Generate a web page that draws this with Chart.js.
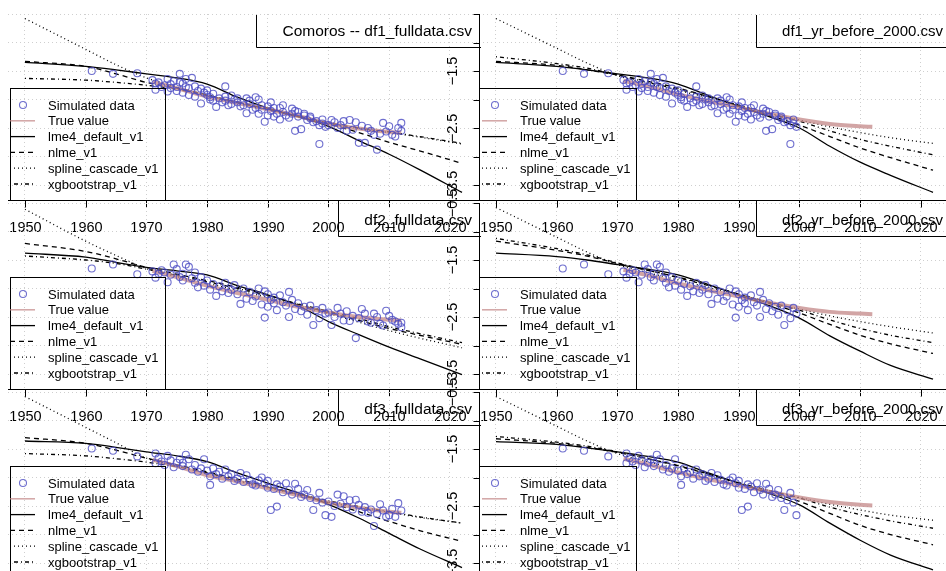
<!DOCTYPE html>
<html>
<head>
<meta charset="utf-8">
<script src="https://cdn.jsdelivr.net/npm/chart.js@4.4.1/dist/chart.umd.min.js"></script>
<style>
  html, body { margin: 0; padding: 0; background: #fff; width: 946px; height: 571px; overflow: hidden; }
  canvas { position: absolute; left: 0; top: 0; }
</style>
</head>
<body>
<script>
// ---- axis ticks ----
const xTicks = [1950, 1960, 1970, 1980, 1990, 2000, 2010, 2020];
const xTickLabels = ['1950', '1960', '1970', '1980', '1990', '2000', '2010', '2020'];
const yTicks = [-3.5, -3, -2.5, -2, -1.5, -1, -0.5];
const yLabelTicks = [-3.5, -2.5, -1.5, -0.5];
const yTickLabels = ['\u22123.5', '\u22122.5', '\u22121.5', '\u22120.5'];

// ---- simulated data [year, value] ----
const df1Points = [
  [1961,-1.50],[1964.5,-1.55],[1968.5,-1.54],
  [1971.5,-1.72],[1971.5,-1.83],[1971,-1.66],[1972,-1.70],[1972.5,-1.78],
  [1973.5,-1.64],[1973.5,-1.86],[1973,-1.75],[1974.5,-1.68],[1974,-1.80],[1974,-1.73],
  [1975.5,-1.55],[1975,-1.78],[1975,-1.85],[1975.5,-1.70],
  [1976.5,-1.64],[1976.5,-1.78],[1976,-1.88],[1976,-1.72],
  [1977.5,-1.62],[1977,-1.80],[1977,-1.92],
  [1978,-1.77],[1978.5,-1.85],[1978,-1.95],
  [1979,-2.07],[1979.5,-1.88],[1979,-1.81],
  [1980.5,-1.96],[1980,-1.84],[1980,-1.92],[1980.5,-2.00],
  [1981.5,-2.13],[1981,-1.90],[1981,-2.02],
  [1983,-1.77],[1982,-1.98],[1982.5,-2.05],
  [1983,-1.95],[1983.5,-2.10],[1983,-2.02],
  [1984.5,-2.00],[1984,-2.08],[1984,-1.93],
  [1985,-2.05],[1985.5,-2.12],[1985,-1.98],
  [1986.5,-1.98],[1986.5,-2.24],[1986,-2.10],
  [1988,-1.96],[1987,-2.08],[1987.5,-2.18],[1987,-2.02],
  [1988.5,-2.00],[1988,-2.15],[1988.5,-2.25],
  [1989.5,-2.39],[1989,-2.10],[1989,-2.18],
  [1990,-2.12],[1990.5,-2.20],[1990,-2.28],[1990.5,-2.05],
  [1991,-2.15],[1991.5,-2.25],[1991,-2.30],
  [1992,-2.15],[1992.5,-2.22],[1992,-2.35],[1992.5,-2.10],
  [1994,-2.16],[1993,-2.28],[1993.5,-2.32],
  [1994.5,-2.55],[1994,-2.25],[1994.5,-2.20],
  [1995.5,-2.52],[1995,-2.30],[1995,-2.22],
  [1996,-2.28],[1996.5,-2.36],[1996,-2.25],
  [1997,-2.30],[1997.5,-2.40],[1997,-2.33],
  [1998.5,-2.78],[1998,-2.38],[1998.5,-2.45],
  [1999,-2.35],[1999.5,-2.48],[1999,-2.42],
  [2000.5,-2.36],[2000,-2.45],[2001,-2.40],[2001.5,-2.50],
  [2002,-2.45],[2002.5,-2.38],[2003.5,-2.36],[2003,-2.55],
  [2004,-2.53],[2004.5,-2.40],[2005,-2.76],[2005.5,-2.46],
  [2006,-2.76],[2006.5,-2.50],[2007,-2.55],[2007.5,-2.62],
  [2008,-2.88],[2008.5,-2.60],[2009,-2.41],[2009.5,-2.56],
  [2010,-2.47],[2010.5,-2.62],[2011,-2.65],[2011.5,-2.50],
  [2012,-2.41],[2012,-2.55]
];
const df2Points = [
  [1961,-1.65],[1964.5,-1.58],[1968.5,-1.75],
  [1971.5,-1.81],[1971,-1.70],[1972,-1.74],[1972.5,-1.68],[1973.5,-1.89],[1973,-1.72],
  [1974.5,-1.58],[1974,-1.76],[1975,-1.66],[1975.5,-1.80],[1976.5,-1.58],[1976,-1.74],[1976,-1.86],
  [1977,-1.62],[1977.5,-1.82],[1978,-1.72],[1978.5,-1.98],[1978,-1.90],
  [1979,-1.80],[1979.5,-1.95],[1980,-1.86],[1980.5,-2.02],[1981.5,-2.13],[1981,-1.92],
  [1982,-1.96],[1982.5,-2.05],[1983,-1.90],[1983.5,-2.08],[1984,-2.02],[1984.5,-1.94],
  [1985.5,-2.27],[1985,-2.10],[1986,-2.00],[1986.5,-2.18],[1987,-2.06],[1987.5,-2.22],
  [1988.5,-2.00],[1988,-2.14],[1989,-2.28],[1989.5,-2.51],[1989.5,-2.05],
  [1990,-2.10],[1990.5,-2.20],[1990,-2.32],[1991,-2.16],[1991.5,-2.38],[1991,-2.26],
  [1992,-2.12],[1992.5,-2.24],[1993.5,-2.06],[1993,-2.30],[1993.5,-2.50],[1994,-2.20],[1994.5,-2.36],
  [1995,-2.26],[1995.5,-2.40],[1996,-2.32],[1996.5,-2.46],[1997.5,-2.64],[1997,-2.30],[1998,-2.38],[1998.5,-2.52],
  [1999,-2.34],[1999.5,-2.44],[2000.5,-2.64],[2000,-2.42],[2001.5,-2.34],[2001,-2.50],
  [2002,-2.44],[2002.5,-2.56],[2003.5,-2.57],[2003,-2.40],[2004.5,-2.87],[2004,-2.48],
  [2005.5,-2.36],[2005,-2.52],[2006,-2.44],[2006.5,-2.58],[2007.5,-2.44],[2007,-2.60],
  [2008,-2.50],[2008.5,-2.62],[2009.5,-2.39],[2009,-2.65],[2010.5,-2.55],[2010,-2.48],
  [2011.5,-2.62],[2011,-2.58],[2012,-2.68],[2012,-2.60]
];
const df3Points = [
  [1961,-1.49],[1964.5,-1.53],[1968.5,-1.63],
  [1971.5,-1.58],[1971.5,-1.75],[1972,-1.66],[1972.5,-1.72],[1973.5,-1.62],[1973,-1.78],
  [1974,-1.70],[1974.5,-1.82],[1975,-1.74],[1975.5,-1.68],[1976.5,-1.60],[1976,-1.80],[1976,-1.74],
  [1977,-1.68],[1977.5,-1.86],[1978,-1.78],[1978.5,-1.90],[1979.5,-1.68],[1979,-1.84],
  [1980.5,-2.13],[1980.5,-1.98],[1980,-1.88],[1981,-1.84],[1981.5,-1.94],[1982,-1.90],[1982.5,-2.02],
  [1983,-1.86],[1983.5,-1.98],[1984,-1.94],[1984.5,-2.06],[1985.5,-1.92],[1985,-2.02],[1986,-2.08],
  [1986.5,-1.96],[1987,-2.04],[1987.5,-2.12],[1988.5,-2.05],[1988,-2.14],[1989,-2.00],[1989.5,-2.10],
  [1990,-2.18],[1990.5,-2.57],[1990,-2.06],[1991.5,-2.51],[1991,-2.20],[1991.5,-2.12],
  [1992,-2.16],[1992.5,-2.26],[1993,-2.10],[1993.5,-2.22],[1994.5,-2.11],[1994,-2.30],
  [1995,-2.20],[1995.5,-2.34],[1996.5,-2.22],[1996,-2.30],[1997.5,-2.57],[1997,-2.36],
  [1998.5,-2.27],[1998,-2.40],[1999.5,-2.66],[1999,-2.44],
  [2000.5,-2.69],[2000,-2.42],[2001.5,-2.30],[2001,-2.50],[2002.5,-2.33],[2002,-2.46],
  [2003,-2.52],[2003.5,-2.40],[2004.5,-2.39],[2004,-2.56],[2005,-2.48],[2005.5,-2.60],
  [2006,-2.52],[2006.5,-2.62],[2007.5,-2.85],[2007,-2.56],[2008.5,-2.47],[2008,-2.64],
  [2009.5,-2.69],[2009,-2.58],[2010.5,-2.55],[2010,-2.66],[2011.5,-2.45],[2011,-2.69],[2012,-2.58]
];

// ---- true value ----
const trueYears = [1971, 1975, 1980, 1985, 1990, 1995, 2000, 2005, 2010, 2012];
const trueDf1Full = [-1.69,-1.80,-1.95,-2.06,-2.17,-2.29,-2.42,-2.51,-2.57,-2.58];
const trueDf1Pre  = [-1.67,-1.77,-1.91,-2.03,-2.14,-2.25,-2.35,-2.43,-2.47,-2.48];
const trueDf2Full = [-1.69,-1.80,-1.95,-2.08,-2.20,-2.32,-2.42,-2.50,-2.55,-2.56];
const trueDf2Pre  = [-1.67,-1.77,-1.91,-2.03,-2.14,-2.25,-2.34,-2.41,-2.44,-2.45];
const trueDf3Full = [-1.69,-1.80,-1.96,-2.07,-2.19,-2.31,-2.44,-2.53,-2.60,-2.62];
const trueDf3Pre  = [-1.67,-1.77,-1.91,-2.03,-2.14,-2.25,-2.35,-2.43,-2.48,-2.49];

// ---- model fits ----
const modelYears = [1950, 1960, 1965, 1970, 1975, 1980, 1985, 1990, 1995, 2000, 2005, 2010, 2015, 2022];
const lme4Df1Full   = [-1.35,-1.42,-1.48,-1.55,-1.62,-1.73,-1.96,-2.15,-2.30,-2.47,-2.72,-2.96,-3.23,-3.63];
const nlmeDf1Full   = [-1.33,-1.42,-1.55,-1.70,-1.80,-1.92,-2.05,-2.17,-2.30,-2.43,-2.58,-2.75,-2.90,-3.12];
const splineDf1Full = [-0.58,-1.12,-1.39,-1.62,-1.78,-1.93,-2.06,-2.18,-2.30,-2.42,-2.51,-2.58,-2.66,-2.78];
const xgbDf1Full    = [-1.63,-1.66,-1.70,-1.75,-1.82,-1.93,-2.05,-2.17,-2.29,-2.41,-2.50,-2.57,-2.65,-2.77];

const lme4Df1Pre   = [-1.35,-1.42,-1.48,-1.55,-1.62,-1.73,-1.93,-2.12,-2.30,-2.50,-2.82,-3.10,-3.33,-3.63];
const nlmeDf1Pre   = [-1.33,-1.40,-1.48,-1.57,-1.68,-1.80,-1.95,-2.12,-2.28,-2.45,-2.65,-2.85,-3.02,-3.24];
const splineDf1Pre = [-0.58,-1.10,-1.36,-1.58,-1.72,-1.84,-1.97,-2.10,-2.24,-2.36,-2.48,-2.58,-2.67,-2.77];
const xgbDf1Pre    = [-1.25,-1.37,-1.45,-1.57,-1.70,-1.82,-1.95,-2.10,-2.25,-2.38,-2.55,-2.70,-2.82,-2.97];

const lme4Df2Full   = [-1.38,-1.45,-1.54,-1.63,-1.69,-1.76,-1.95,-2.11,-2.30,-2.58,-2.81,-3.03,-3.23,-3.51];
const nlmeDf2Full   = [-1.21,-1.35,-1.48,-1.63,-1.75,-1.86,-1.98,-2.12,-2.28,-2.42,-2.56,-2.70,-2.82,-2.98];
const splineDf2Full = [-0.61,-1.17,-1.42,-1.65,-1.79,-1.91,-2.03,-2.16,-2.30,-2.44,-2.59,-2.74,-2.87,-3.04];
const xgbDf2Full    = [-1.43,-1.50,-1.56,-1.66,-1.77,-1.88,-2.00,-2.13,-2.27,-2.40,-2.53,-2.67,-2.79,-2.95];

const lme4Df2Pre   = [-1.38,-1.44,-1.50,-1.58,-1.66,-1.76,-1.93,-2.12,-2.30,-2.52,-2.83,-3.10,-3.35,-3.59];
const nlmeDf2Pre   = [-1.17,-1.33,-1.43,-1.56,-1.68,-1.80,-1.94,-2.10,-2.26,-2.43,-2.63,-2.82,-2.97,-3.14];
const splineDf2Pre = [-0.58,-1.10,-1.36,-1.58,-1.72,-1.85,-1.98,-2.11,-2.24,-2.36,-2.48,-2.58,-2.67,-2.78];
const xgbDf2Pre    = [-1.12,-1.30,-1.41,-1.55,-1.68,-1.81,-1.95,-2.10,-2.24,-2.38,-2.55,-2.70,-2.82,-2.95];

const lme4Df3Full   = [-1.36,-1.40,-1.47,-1.55,-1.62,-1.72,-1.92,-2.10,-2.27,-2.47,-2.71,-2.98,-3.25,-3.58];
const nlmeDf3Full   = [-1.30,-1.40,-1.52,-1.66,-1.78,-1.90,-2.03,-2.16,-2.30,-2.44,-2.60,-2.77,-2.93,-3.12];
const splineDf3Full = [-0.58,-1.12,-1.39,-1.66,-1.80,-1.93,-2.06,-2.18,-2.30,-2.43,-2.53,-2.61,-2.70,-2.80];
const xgbDf3Full    = [-1.58,-1.62,-1.67,-1.73,-1.81,-1.92,-2.05,-2.17,-2.29,-2.41,-2.51,-2.60,-2.69,-2.80];

const lme4Df3Pre   = [-1.37,-1.42,-1.48,-1.55,-1.63,-1.73,-1.92,-2.10,-2.28,-2.48,-2.80,-3.10,-3.36,-3.62];
const nlmeDf3Pre   = [-1.32,-1.40,-1.47,-1.56,-1.67,-1.79,-1.94,-2.10,-2.26,-2.42,-2.63,-2.84,-3.00,-3.18];
const splineDf3Pre = [-0.58,-1.10,-1.36,-1.58,-1.72,-1.85,-1.97,-2.10,-2.23,-2.35,-2.47,-2.57,-2.66,-2.75];
const xgbDf3Pre    = [-1.28,-1.38,-1.45,-1.55,-1.67,-1.80,-1.94,-2.09,-2.23,-2.36,-2.52,-2.65,-2.76,-2.89];

// ---- layout / style ----
const FONT = '"Liberation Sans", Arial, Helvetica, sans-serif';
const PAGE_W = 980, PAGE_H = 600;
const X_MIN = 1947.2, X_MAX = 2024.8, Y_MIN = -3.763, Y_MAX = -0.5;
const PT_COLOR = 'rgba(75, 75, 195, 0.8)';
const TRUE_COLOR = 'rgba(195, 135, 135, 0.75)';

const panels = [
  { row: 0, col: 0, title: 'Comoros -- df1_fulldata.csv', pts: df1Points, truth: trueDf1Full, fits: [lme4Df1Full, nlmeDf1Full, splineDf1Full, xgbDf1Full] },
  { row: 0, col: 1, title: 'df1_yr_before_2000.csv', pts: df1Points.filter(d => d[0] < 2000), truth: trueDf1Pre, fits: [lme4Df1Pre, nlmeDf1Pre, splineDf1Pre, xgbDf1Pre] },
  { row: 1, col: 0, title: 'df2_fulldata.csv', pts: df2Points, truth: trueDf2Full, fits: [lme4Df2Full, nlmeDf2Full, splineDf2Full, xgbDf2Full] },
  { row: 1, col: 1, title: 'df2_yr_before_2000.csv', pts: df2Points.filter(d => d[0] < 2000), truth: trueDf2Pre, fits: [lme4Df2Pre, nlmeDf2Pre, splineDf2Pre, xgbDf2Pre] },
  { row: 2, col: 0, title: 'df3_fulldata.csv', pts: df3Points, truth: trueDf3Full, fits: [lme4Df3Full, nlmeDf3Full, splineDf3Full, xgbDf3Full] },
  { row: 2, col: 1, title: 'df3_yr_before_2000.csv', pts: df3Points.filter(d => d[0] < 2000), truth: trueDf3Pre, fits: [lme4Df3Pre, nlmeDf3Pre, splineDf3Pre, xgbDf3Pre] }
];

const fitLabels = ['lme4_default_v1', 'nlme_v1', 'spline_cascade_v1', 'xgbootstrap_v1'];
const fitDash = [[], [5, 4], [1, 3], [1, 3, 4, 3]];

function plotBox(p) {
  const left = p.col === 0 ? 8 : 479;
  const top = 14 + 189 * p.row;
  return { left: left, right: left + 471, top: top, bottom: top + 186 };
}

function seg(ctx, x1, y1, x2, y2) {
  ctx.beginPath();
  ctx.moveTo(x1, y1);
  ctx.lineTo(x2, y2);
  ctx.stroke();
}

// axes, legend and title box drawn R-style around the chart area
const rDecor = {
  id: 'rDecor',
  afterDraw(chart, args, opts) {
    const p = opts.panel;
    const ctx = chart.ctx;
    const a = chart.chartArea;
    const xs = chart.scales.x, ys = chart.scales.y;
    ctx.save();
    ctx.strokeStyle = '#000';
    ctx.fillStyle = '#000';
    ctx.lineWidth = 1;
    ctx.setLineDash([]);

    // bottom axis
    const by = Math.round(a.bottom) + 0.5;
    seg(ctx, a.left, by, a.right, by);
    ctx.font = '14.5px ' + FONT;
    ctx.textAlign = 'center';
    ctx.textBaseline = 'alphabetic';
    xTicks.forEach((v, i) => {
      const x = Math.round(xs.getPixelForValue(v)) + 0.5;
      seg(ctx, x, by, x, by + 7);
      ctx.fillText(xTickLabels[i], x, a.bottom + 32);
    });

    // left axis (only visible on right-hand column)
    if (p.col === 1) {
      const lx = Math.round(a.left) + 0.5;
      seg(ctx, lx, a.top, lx, a.bottom);
      yTicks.forEach(v => {
        const y = Math.round(ys.getPixelForValue(v)) + 0.5;
        seg(ctx, lx - 6, y, lx, y);
      });
      yLabelTicks.forEach((v, i) => {
        if (p.row === 0 && v === -0.5) return;
        const y = ys.getPixelForValue(v);
        ctx.save();
        ctx.translate(a.left - 22, y);
        ctx.rotate(-Math.PI / 2);
        ctx.fillText(yTickLabels[i], 0, 0);
        ctx.restore();
      });
    }

    // legend (top-left)
    const lx0 = p.col === 0 ? 10 : 479;
    const lw = p.col === 0 ? 155 : 157;
    const ly0 = a.top + 74;
    ctx.strokeStyle = '#000';
    ctx.strokeRect(lx0 + 0.5, Math.round(ly0) + 0.5, lw, a.bottom - ly0);
    ctx.font = '13px ' + FONT;
    ctx.textAlign = 'left';
    ctx.textBaseline = 'middle';
    const off = p.col === 0 ? 0 : 3;
    chart.data.datasets.forEach((ds, i) => {
      const y = a.top + 91 + 15.8 * i;
      if (i === 0) {
        ctx.setLineDash([]);
        ctx.strokeStyle = PT_COLOR;
        ctx.lineWidth = 1.1;
        ctx.beginPath();
        ctx.arc(lx0 + off + 13, y, 3.5, 0, Math.PI * 2);
        ctx.stroke();
      } else {
        ctx.strokeStyle = ds.borderColor;
        ctx.lineWidth = i === 1 ? 1.5 : 1.3;
        ctx.setLineDash(ds.borderDash || []);
        seg(ctx, lx0 + off, y, lx0 + off + 25, y);
      }
      ctx.setLineDash([]);
      ctx.fillStyle = '#000';
      ctx.fillText(ds.label, lx0 + off + 38, y + 1);
    });

    // title box (top-right): left and bottom edges, right edge sits on the next axis
    ctx.font = (p.col === 0 ? '15.5px ' : '15px ') + FONT;
    const tw = ctx.measureText(p.title).width;
    const tr = a.right - 7;
    const bx = Math.round(tr - tw - 26) + 0.5;
    const bTop = p.row === 0 ? a.top + 1 : a.top - 3;
    const bBot = Math.round(a.top + 33) + 0.5;
    ctx.strokeStyle = '#000';
    ctx.lineWidth = 1;
    ctx.beginPath();
    ctx.moveTo(bx, bTop);
    ctx.lineTo(bx, bBot);
    ctx.lineTo(a.right + 2, bBot);
    ctx.stroke();
    ctx.textAlign = 'right';
    ctx.textBaseline = 'middle';
    ctx.fillText(p.title, tr, a.top + 17.5);
    ctx.restore();
  }
};

panels.forEach(p => {
  const box = plotBox(p);
  const canvas = document.createElement('canvas');
  canvas.width = PAGE_W;
  canvas.height = PAGE_H;
  document.body.appendChild(canvas);

  const datasets = [
    {
      label: 'Simulated data',
      data: p.pts.map(d => ({ x: d[0], y: d[1] })),
      showLine: false,
      pointStyle: 'circle',
      pointRadius: 3.5,
      pointBorderWidth: 1.1,
      pointBorderColor: PT_COLOR,
      pointBackgroundColor: 'rgba(0,0,0,0)'
    },
    {
      label: 'True value',
      data: trueYears.map((x, i) => ({ x: x, y: p.truth[i] })),
      showLine: true,
      borderColor: TRUE_COLOR,
      borderWidth: 4,
      pointRadius: 0,
      cubicInterpolationMode: 'monotone'
    }
  ];
  p.fits.forEach((vals, k) => {
    datasets.push({
      label: fitLabels[k],
      data: modelYears.map((x, i) => ({ x: x, y: vals[i] })),
      showLine: true,
      borderColor: '#000',
      borderWidth: 1.3,
      borderDash: fitDash[k],
      pointRadius: 0,
      cubicInterpolationMode: 'monotone'
    });
  });

  new Chart(canvas, {
    type: 'scatter',
    data: { datasets: datasets },
    options: {
      responsive: false,
      animation: false,
      devicePixelRatio: 1,
      events: [],
      layout: {
        padding: { left: box.left, top: box.top, right: PAGE_W - box.right, bottom: PAGE_H - box.bottom }
      },
      plugins: {
        legend: { display: false },
        tooltip: { enabled: false },
        rDecor: { panel: p }
      },
      scales: {
        x: {
          type: 'linear', min: X_MIN, max: X_MAX,
          afterBuildTicks: s => { s.ticks = xTicks.map(v => ({ value: v })); },
          ticks: { display: false },
          grid: { color: '#cfcfcf', lineWidth: 1, drawTicks: false },
          border: { display: false, dash: [1, 3] }
        },
        y: {
          type: 'linear', min: Y_MIN, max: Y_MAX,
          afterBuildTicks: s => { s.ticks = yTicks.map(v => ({ value: v })); },
          ticks: { display: false },
          grid: { color: '#cfcfcf', lineWidth: 1, drawTicks: false },
          border: { display: false, dash: [1, 3] }
        }
      }
    },
    plugins: [rDecor]
  });
});
</script>
</body>
</html>
